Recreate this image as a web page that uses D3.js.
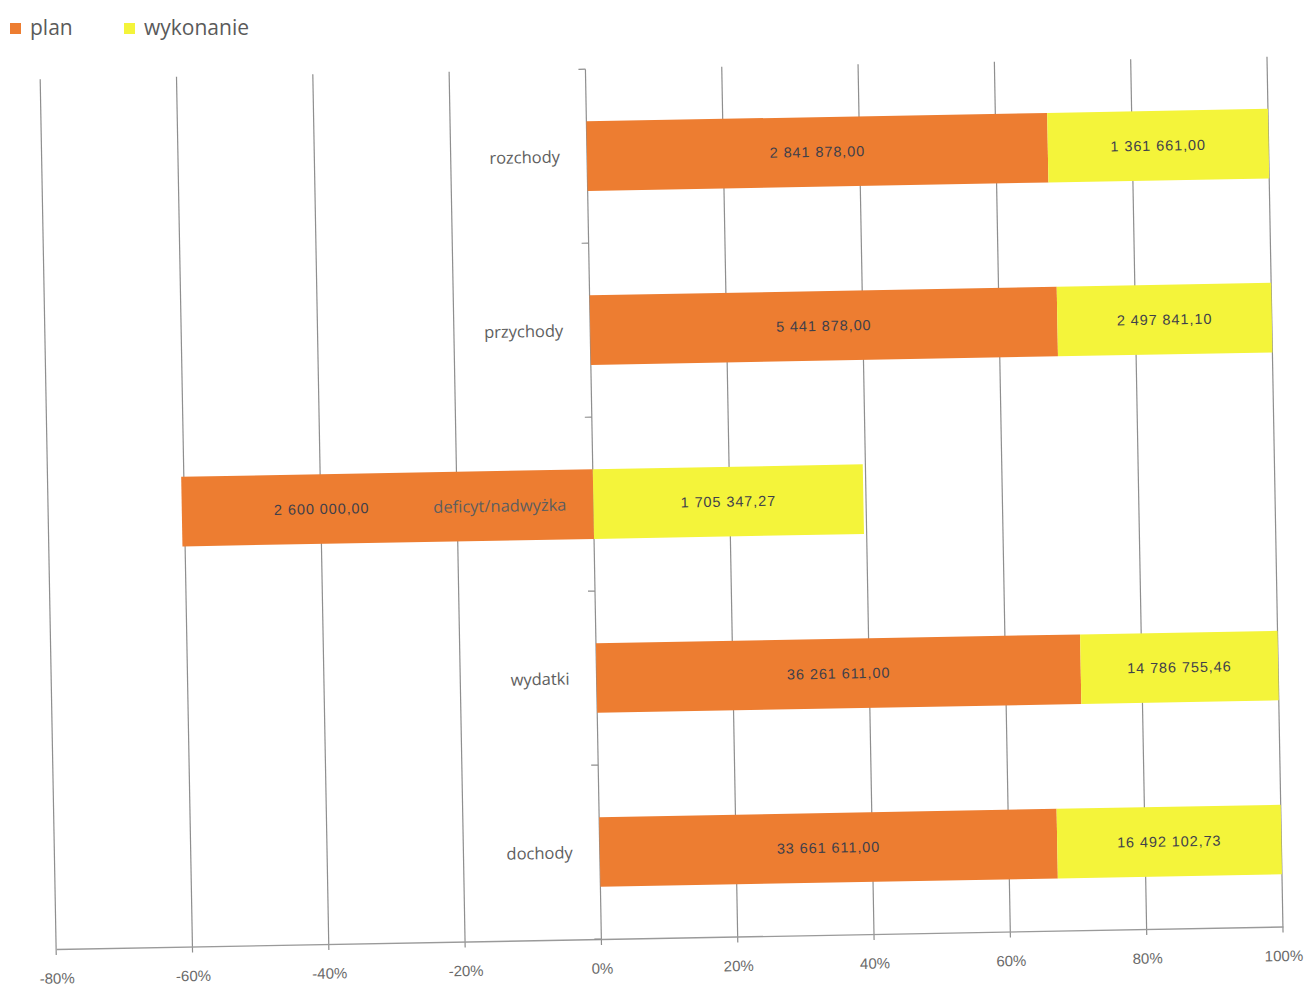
<!DOCTYPE html>
<html lang="pl">
<head>
<meta charset="utf-8">
<script src="https://cdn.jsdelivr.net/npm/d3@7/dist/d3.min.js"></script>
<style>
  html, body { margin: 0; padding: 0; background: #fff; }
  svg { display: block; }
</style>
</head>
<body>
<svg id="chart" width="1307" height="990"></svg>
<script>
// Budget: plan vs. execution, 100% stacked horizontal bars
const categories = ["rozchody", "przychody", "deficyt/nadwyżka", "wydatki", "dochody"];
const seriesNames = ["plan", "wykonanie"];
const planValues = [2841878.00, 5441878.00, -2600000.00, 36261611.00, 33661611.00];
const wykonanieValues = [1361661.00, 2497841.10, 1705347.27, 14786755.46, 16492102.73];
const tickValues = [-0.8, -0.6, -0.4, -0.2, 0, 0.2, 0.4, 0.6, 0.8, 1.0];

const colors = { plan: "#ED7D31", wykonanie: "#F4F43A" };

const W = 1307, H = 990;
const plot = { left: 48, right: 1275, top: 68, bottom: 938 };

const svg = d3.select("#chart");
svg.append("rect").attr("width", W).attr("height", H).attr("fill", "#fff");

// shares of each value in the category total (absolute values)
const rows = categories.map((c, i) => {
  const tot = Math.abs(planValues[i]) + Math.abs(wykonanieValues[i]);
  return {
    category: c,
    plan: planValues[i] / tot,
    wykonanie: wykonanieValues[i] / tot,
    raw: { plan: planValues[i], wykonanie: wykonanieValues[i] }
  };
});

const stacked = d3.stack()
  .keys(seriesNames)
  .offset(d3.stackOffsetDiverging)(rows);

const x = d3.scaleLinear().domain([-0.8, 1.0]).range([plot.left, plot.right]);
const y = d3.scaleBand().domain(categories)
  .range([plot.top, plot.bottom])
  .paddingInner(0.6).paddingOuter(0.3);

const pl = d3.formatLocale({ decimal: ",", thousands: "\u00a0", grouping: [3], currency: ["", ""] });
const fmt = pl.format(",.2f");
const pct = v => (v < 0 ? "-" : "") + Math.round(Math.abs(v) * 100) + "%";

// whole chart body is slightly tilted
const g = svg.append("g").attr("transform", "rotate(-1.05, 653, 500)");

// vertical gridlines (with small ticks below the axis)
g.append("g").selectAll("line").data(tickValues).join("line")
  .attr("x1", d => x(d)).attr("x2", d => x(d))
  .attr("y1", plot.top).attr("y2", plot.bottom + 6)
  .attr("stroke", "#8e8e8e").attr("stroke-width", 1.2);

// horizontal axis
const axis = d3.axisBottom(x).tickValues(tickValues).tickFormat(pct).tickSize(0).tickPadding(24);
const ax = g.append("g").attr("transform", `translate(0,${plot.bottom})`).call(axis);
ax.select(".domain").attr("stroke", "#9a9a9a").attr("stroke-width", 1.4);
ax.selectAll("text")
  .attr("font-family", "'Liberation Sans Narrow', 'Liberation Sans', sans-serif")
  .attr("font-size", 15).attr("fill", "#6a6a6a");

// category axis ticks at the zero line
const step = y.step();
const bounds = d3.range(categories.length + 1).map(k => plot.top + k * step);
g.append("g").selectAll("line").data(bounds).join("line")
  .attr("x1", x(0) - 7).attr("x2", x(0))
  .attr("y1", d => d).attr("y2", d => d)
  .attr("stroke", "#8e8e8e").attr("stroke-width", 1.2);

// bars
const layers = g.append("g").selectAll("g").data(stacked).join("g")
  .attr("fill", d => colors[d.key]);
layers.selectAll("rect").data(d => d.map(s => ({ s, key: d.key }))).join("rect")
  .attr("x", d => x(Math.min(d.s[0], d.s[1])))
  .attr("width", d => Math.abs(x(d.s[1]) - x(d.s[0])))
  .attr("y", d => y(d.s.data.category))
  .attr("height", y.bandwidth());

// category labels
g.append("g").selectAll("text").data(categories).join("text")
  .attr("x", x(0) - 27)
  .attr("y", d => y(d) + y.bandwidth() / 2 + 6)
  .attr("text-anchor", "end")
  .attr("font-family", "'Open Sans', sans-serif")
  .attr("font-size", 16.5)
  .attr("fill", "#5e5e5e")
  .text(d => d);

// data labels; on a negative segment the label sits nearer its outer end,
// leaving room for the category name
const negLabelPos = 0.66;
const labels = [];
stacked.forEach(layer => layer.forEach(s => labels.push({ s, key: layer.key })));
g.append("g").selectAll("text").data(labels).join("text")
  .attr("x", d => {
    const v = d.s.data[d.key];
    return v < 0 ? x(v * negLabelPos) : x((d.s[0] + d.s[1]) / 2);
  })
  .attr("y", d => y(d.s.data.category) + y.bandwidth() / 2 + 5)
  .attr("text-anchor", "middle")
  .attr("font-family", "'Liberation Sans', sans-serif")
  .attr("font-size", 14.5)
  .attr("letter-spacing", 0.9)
  .attr("fill", "#3f3f4a")
  .text(d => fmt(Math.abs(d.s.data.raw[d.key])));

// legend
const legend = svg.append("g").attr("transform", "translate(10,28)");
const items = [{ key: "plan", x: 0 }, { key: "wykonanie", x: 114 }];
items.forEach(it => {
  legend.append("rect").attr("x", it.x).attr("y", -5).attr("width", 11).attr("height", 11)
    .attr("fill", colors[it.key]);
  legend.append("text").attr("x", it.x + 20).attr("y", 7)
    .attr("font-family", "'Open Sans', sans-serif").attr("font-size", 21)
    .attr("fill", "#5a5a5a").text(it.key);
});
</script>
</body>
</html>
